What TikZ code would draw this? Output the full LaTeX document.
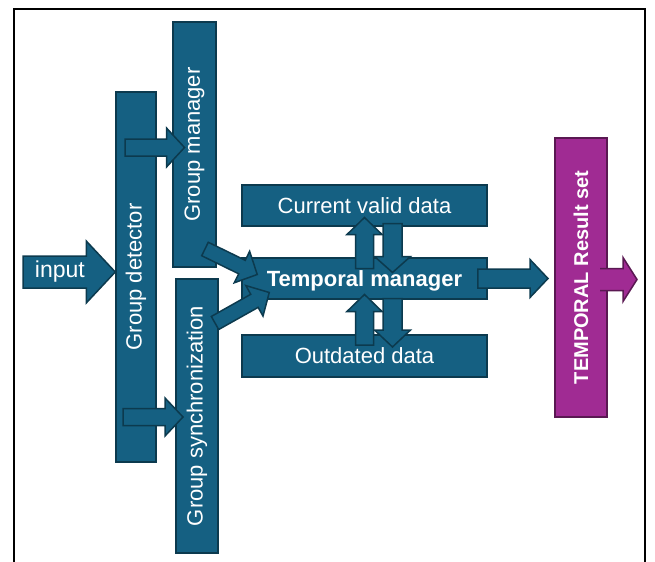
\documentclass[tikz,border=0pt]{standalone}
\usepackage{fontspec}
\setmainfont{Liberation Sans}
\usetikzlibrary{calc}

\definecolor{tealblue}{HTML}{156082}
\definecolor{tealdark}{HTML}{0C3A4E}
\definecolor{plum}{HTML}{A02B93}
\definecolor{plumdark}{HTML}{5A1852}

\tikzset{
  block/.style={
    rectangle, draw=tealdark, fill=tealblue, line width=0.75pt,
    text=white, inner sep=0pt, align=center,
    font=\fontsize{11}{13}\selectfont
  },
  vblock/.style={block, rotate=90},
  resultblock/.style={
    block, rotate=90, fill=plum, draw=plumdark,
    font=\fontsize{10}{12}\selectfont\bfseries
  },
  arrowshape/.style={draw=tealdark, fill=tealblue, line width=0.75pt},
  frame/.style={draw=black, line width=1pt}
}

% corner points of a block arrow: tail, tip, half body, half head, head length
\newcommand{\fatarrowpts}[5]{%
  \path ($(#2)!#5!(#1)$) coordinate (fa-h);
  \path ($(#1)!#3!90:(#2)$) coordinate (fa-1)
    ($(fa-h)!#3!90:(#2)$) coordinate (fa-2)
    ($(fa-h)!#4!90:(#2)$) coordinate (fa-3)
    (#2) coordinate (fa-4)
    ($(fa-h)!#4!-90:(#2)$) coordinate (fa-5)
    ($(fa-h)!#3!-90:(#2)$) coordinate (fa-6)
    ($(#1)!#3!-90:(#2)$) coordinate (fa-7);
}
\newcommand{\fatarrow}[6][]{%
  \fatarrowpts{#2}{#3}{#4}{#5}{#6}
  \path[arrowshape,#1] (fa-1) -- (fa-2) -- (fa-3) -- (fa-4) -- (fa-5)
    -- (fa-6) -- (fa-7) -- cycle;
}

\begin{document}
\begin{tikzpicture}[x=0.5pt, y=-0.5pt]
\useasboundingbox (0,0) rectangle (655,562);

% outer frame
\draw[frame] (14,562) -- (14,9) -- (645,9) -- (645,562);

% group stages
\node[vblock, minimum width=185pt, minimum height=20pt] (det) at (136,277) {Group detector};
\node[vblock, minimum width=122.5pt, minimum height=21.5pt] (mgr) at (194.5,144.5) {Group manager};
\node[vblock, minimum width=137pt, minimum height=21pt] (sync) at (197,416) {Group synchronization};

% temporal stores
\node[block, minimum width=122.5pt, minimum height=20.5pt] (cur) at (364.5,205.5) {Current valid data};
\node[block, minimum width=122.5pt, minimum height=20.5pt, text depth=0pt,
      font=\fontsize{11}{13}\selectfont\bfseries] (tm) at (364.5,278.5) {Temporal manager};
\node[block, minimum width=122.5pt, minimum height=21pt] (od) at (364.5,356) {Outdated data};

% result
\node[resultblock, minimum width=139.5pt, minimum height=26pt] (res) at (581,277.5) {TEMPORAL Result set};

% input (det is turned, so its north side faces left)
\coordinate (in-a) at (23,272);
\coordinate (in-b) at (det.north |- in-a);
\fatarrow{in-a}{in-b}{8pt}{15.5pt}{14.5pt}
\node[text=white, font=\fontsize{11.5}{13}\selectfont] (inlabel) at ($(in-a)!0.4!(in-b)$) {input};

% detector to manager / synchronization
\coordinate (d2m-a) at ($(det.center |- mgr.center)+(-11,3)$);
\coordinate (d2m-b) at ($(mgr.center)+(-10,3)$);
\fatarrow{d2m-a}{d2m-b}{4.25pt}{9.75pt}{9pt}
\coordinate (d2s-a) at ($(det.center |- sync.center)+(-13,1)$);
\coordinate (d2s-b) at ($(sync.center)+(-14,1)$);
\fatarrow{d2s-a}{d2s-b}{4.25pt}{9.5pt}{9pt}

% into the temporal manager
\coordinate (m2t-a) at ($(mgr.center)+(10.5,104.5)$);
\coordinate (m2t-b) at ($(tm.west)+(16,-4)$);
\fatarrow{m2t-a}{m2t-b}{3.75pt}{8.75pt}{8.5pt}
\coordinate (s2t-a) at ($(sync.center)+(18,-93)$);
\coordinate (s2t-b) at ($(tm.west)+(28,14)$);
\fatarrow{s2t-a}{s2t-b}{3.75pt}{8.75pt}{8.5pt}

% exchange with the stores
\coordinate (t2c-a) at ($(tm.center)+(0,-10)$);
\coordinate (t2c-b) at ($(cur.center)+(0,12)$);
\fatarrow{t2c-a}{t2c-b}{4.5pt}{8.75pt}{8.5pt}
\coordinate (c2t-a) at ($(cur.center)+(28,18)$);
\coordinate (c2t-b) at ($(tm.center)+(28,-6)$);
\fatarrow{c2t-a}{c2t-b}{4.75pt}{9pt}{8pt}
\coordinate (o2t-a) at ($(od.center)+(0,-11)$);
\coordinate (o2t-b) at ($(tm.center)+(0,16)$);
\fatarrow{o2t-a}{o2t-b}{4.5pt}{8.75pt}{8.5pt}
\coordinate (t2o-a) at ($(tm.center)+(28,20)$);
\coordinate (t2o-b) at ($(od.center)+(28,-9)$);
\fatarrow{t2o-a}{t2o-b}{4.75pt}{9pt}{8.5pt}

% to the result set
\coordinate (t2r-a) at ($(tm.east)+(-10,0)$);
\coordinate (t2r-b) at ($(res.center)+(-33,1)$);
\fatarrow{t2r-a}{t2r-b}{4.75pt}{9.5pt}{9pt}

% result output, open at the tail
\coordinate (out-a) at ($(res.center)+(19,2)$);
\coordinate (out-b) at ($(res.center)+(56,2)$);
\fatarrowpts{out-a}{out-b}{5.5pt}{11pt}{7pt}
\fill[plum] (fa-1) -- (fa-2) -- (fa-3) -- (fa-4) -- (fa-5) -- (fa-6) -- (fa-7) -- cycle;
\draw[plumdark, line width=0.75pt] (fa-1) -- (fa-2) -- (fa-3) -- (fa-4) -- (fa-5) -- (fa-6) -- (fa-7);

\end{tikzpicture}
\end{document}
